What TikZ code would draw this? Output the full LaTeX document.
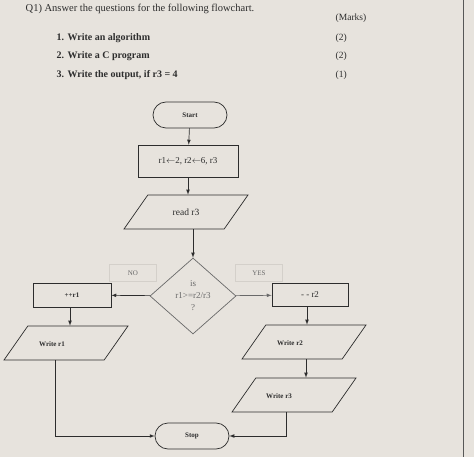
\documentclass[tikz,border=0pt]{standalone}
\usepackage{fontspec}
\setmainfont{Liberation Serif}
\usetikzlibrary{shapes.geometric}
\definecolor{paper}{RGB}{231,227,221}
\definecolor{ink}{RGB}{45,45,45}
\definecolor{faint}{RGB}{105,105,105}
\definecolor{ghost}{RGB}{212,208,202}
\tikzset{terminal/.style={draw=ink,rounded corners=13pt,minimum width=74pt,minimum height=26pt,font=\fontsize{7}{8}\selectfont\bfseries}}
\tikzset{procbox/.style={draw=ink,minimum width=78pt,minimum height=24pt}}
\tikzset{iobox/.style={draw=ink,trapezium,trapezium left angle=55,trapezium right angle=125,trapezium stretches body,minimum width=124pt,text height=7pt,text depth=0pt,inner ysep=13.5pt,inner xsep=0pt}}
\tikzset{wrtext/.style={font=\fontsize{7}{8}\selectfont\bfseries}}
\tikzset{answer/.style={draw=ghost,text=faint,minimum width=47pt,minimum height=17pt,font=\fontsize{7}{8}\selectfont}}

\begin{document}
\begin{tikzpicture}[x=1pt,y=-1pt,>=latex,line width=0.7pt,text=ink]
            \useasboundingbox (0,0) rectangle (474,457);
            \fill[paper] (0,0) rectangle (474,457);
            \draw[ink!80,line width=1pt] (463,0) -- (463,457);
            % question sheet
            \node[anchor=west,font=\fontsize{10.5}{12}\selectfont] (title) at (22,9) {Q1) Answer the questions for the following flowchart.};
            \node[anchor=west,font=\fontsize{9.5}{11}\selectfont] (marks) at (332,18) {(Marks)};
            \foreach \y/\q/\m in {38/{1. Write an algorithm}/(2),56/{2. Write a C program}/(2),75/{3. Write the output, if r3 = 4}/(1)}
            {
                \node[anchor=west,font=\fontsize{10}{11}\selectfont\bfseries] (q\m\y) at (53,\y) {\q};
                \node[anchor=west,font=\fontsize{9.5}{11}\selectfont] (m\y) at (332,\y) {\m};
            }
            % setup the nodes
            \node[terminal] (start) at (190,115) {Start};
            \node[procbox,minimum width=100pt,minimum height=32pt,font=\fontsize{9}{10}\selectfont] (init) at (188,161) {r1$\leftarrow$2, r2$\leftarrow$6, r3};
            \node[iobox,font=\fontsize{9.5}{11}\selectfont] (read) at (186,212) {read r3};
            \node[draw=faint,diamond,minimum width=86pt,minimum height=76pt,inner sep=0pt,text=faint,align=center,font=\fontsize{9}{12}\selectfont] (test) at (193,296) {is\\r1>=r2/r3\\?};
            \node[answer] (no) at (133,273) {NO};
            \node[answer] (yes) at (259,273) {YES};
            \node[procbox,wrtext] (incr) at (72,295) {++r1};
            \node[procbox,minimum width=76pt,minimum height=23pt,font=\fontsize{9}{10}\selectfont] (decr) at (310,295) {- - r2};
            \node[iobox,wrtext] (wrone) at (66,343) {Write r1\hspace*{28pt}};
            \node[iobox,wrtext] (wrtwo) at (304,342) {Write r2\hspace*{28pt}};
            \node[iobox,wrtext] (wrthree) at (294,395) {Write r3\hspace*{30pt}};
            \node[terminal] (stop) at (192,436) {Stop};
            % connectors
            \draw[ink,->] (start) -- (init);
            \draw[ink,->] (init) -- (init.south |- read.north);
            \draw[ink,->] (read.south -| test.north) -- (test);
            \draw[ink,->] (test) -- (incr);
            \draw[faint,->] (test) -- (decr);
            \draw[ink,->] (incr.south -| 70,0) -- (wrone.north -| 70,0);
            \draw[ink,->] (decr.south -| 307,0) -- (wrtwo.north -| 307,0);
            \draw[ink,->] (wrtwo.south -| 306,0) -- (wrthree.north -| 306,0);
            \draw[ink,->] ([xshift=-11pt]wrone.south) |- (stop);
            \draw[ink,->] ([xshift=-8pt]wrthree.south) |- (stop);
        \end{tikzpicture}
\end{document}
